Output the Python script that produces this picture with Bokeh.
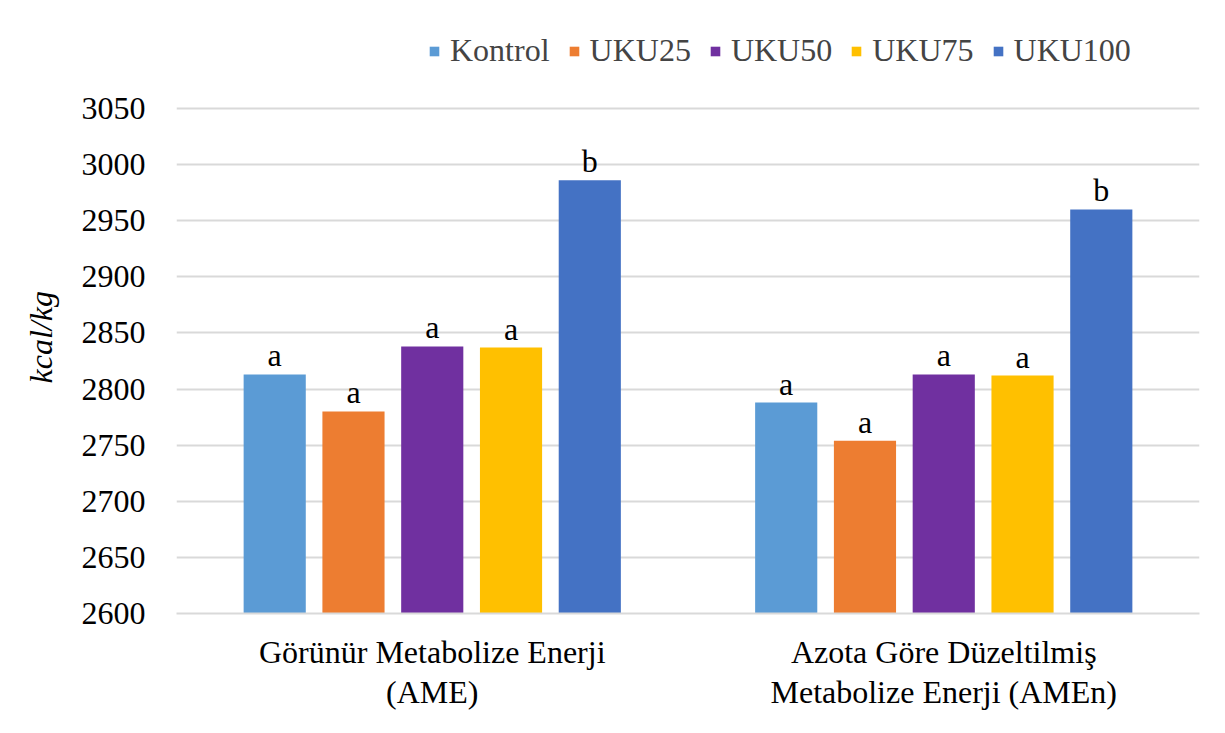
from bokeh.plotting import figure
from bokeh.models import ColumnDataSource, Legend, LegendItem, Range1d, FixedTicker, Title
from bokeh.core.properties import value
from bokeh.embed import file_html
from bokeh.resources import INLINE

categories = ["Görünür Metabolize Enerji\n(AME)", "Azota Göre Düzeltilmiş\nMetabolize Enerji (AMEn)"]
series = ["Kontrol", "UKU25", "UKU50", "UKU75", "UKU100"]
colors = ["#5B9BD5", "#ED7D31", "#7030A0", "#FFC000", "#4472C4"]
ame = [2813, 2780, 2838, 2837, 2986]
amen = [2788, 2754, 2813, 2812, 2960]
letters_ame = ["a", "a", "a", "a", "b"]
letters_amen = ["a", "a", "a", "a", "b"]
y_ticks = [2600, 2650, 2700, 2750, 2800, 2850, 2900, 2950, 3000, 3050]
y_label = "kcal/kg"

FONT = "Liberation Serif"
FS = "32px"

p = figure(width=1209, height=717, output_backend="svg", toolbar_location=None,
           x_range=Range1d(-0.5, 1.5), y_range=Range1d(2600, 3137.3),
           min_border_left=176, min_border_right=10, min_border_top=10, min_border_bottom=104)

pitch = 0.154
bw = 0.1215
items = []
for i, s in enumerate(series):
    off = (i - 2) * pitch
    vals = [ame[i], amen[i]]
    src = ColumnDataSource(dict(x=[0 + off, 1 + off], top=vals,
                                lab=[letters_ame[i], letters_amen[i]]))
    r = p.vbar(x="x", top="top", bottom=2600, width=bw, source=src,
               fill_color=colors[i], line_color=None)
    p.text(x="x", y="top", text="lab", source=src, text_align="center",
           text_baseline="bottom", y_offset=-1, text_font=value(FONT),
           text_font_size=FS, text_color="black")
    items.append(LegendItem(label=s, renderers=[r]))

legend = Legend(items=items, orientation="horizontal", location=(252, 544),
                label_text_font=FONT, label_text_font_size=FS,
                glyph_width=12, glyph_height=12, label_standoff=10, spacing=18,
                padding=0, margin=0, border_line_color=None, background_fill_alpha=0)
p.add_layout(legend, "center")

p.xaxis.ticker = FixedTicker(ticks=[0, 1])
p.xaxis.major_label_overrides = {0: categories[0], 1: categories[1]}
p.xaxis.major_tick_line_color = None
p.xaxis.minor_tick_line_color = None
p.xaxis.axis_line_color = "#D9D9D9"
p.xaxis.axis_line_width = 2
p.xaxis.major_label_text_font = FONT
p.xaxis.major_label_text_font_size = FS
p.xaxis.major_label_standoff = 14
p.xaxis.major_label_text_color = "black"
p.xaxis.major_label_text_line_height = 1.12

p.yaxis.ticker = FixedTicker(ticks=y_ticks)
p.yaxis.major_tick_line_color = None
p.yaxis.minor_tick_line_color = None
p.yaxis.axis_line_color = None
p.yaxis.major_label_text_font = FONT
p.yaxis.major_label_text_font_size = FS
p.yaxis.major_label_standoff = 25
p.yaxis.major_label_text_color = "black"

ytitle = Title(text=y_label, align="left", offset=230, standoff=40,
               text_font=FONT, text_font_style="italic", text_font_size=FS,
               text_color="black")
p.add_layout(ytitle, "left")

p.xgrid.grid_line_color = None
p.ygrid.grid_line_color = "#D9D9D9"
p.ygrid.grid_line_width = 2
p.outline_line_color = None
p.border_fill_color = "white"

open("out.html", "w").write(file_html(p, INLINE))
